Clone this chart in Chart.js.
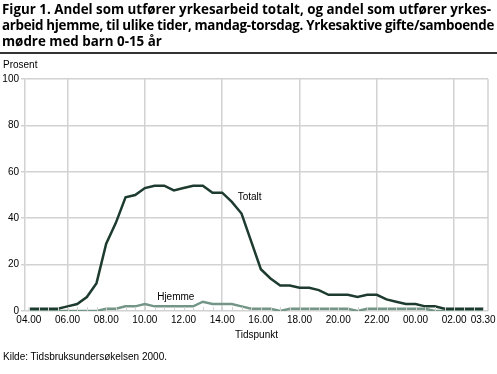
<!DOCTYPE html>
<html><head><meta charset="utf-8">
<script src="https://cdn.jsdelivr.net/npm/chart.js@4/dist/chart.umd.min.js"></script>
<style>
html,body{margin:0;padding:0;background:#fff;width:497px;height:374px;overflow:hidden;position:relative;font-family:"Liberation Sans",Arial,sans-serif;color:#000;}
#wrap{position:absolute;left:0;top:0;width:497px;height:374px;}
#title{position:absolute;left:2px;top:1px;font-family:"Open Sans",sans-serif;font-weight:bold;font-size:12.5px;line-height:16px;white-space:nowrap;}
#title span{display:inline-block;}
#rule{position:absolute;left:0;top:52px;width:497px;height:2px;background:#333;}
#prosent{position:absolute;left:3px;top:59px;font-size:10px;line-height:12px;}
#kilde{position:absolute;left:3px;top:351px;font-size:10px;line-height:12px;}
</style></head><body>
<div id="wrap"><canvas id="c" width="497" height="374"></canvas></div>
<div id="title"><span id="t1">Figur 1. Andel som utfører yrkesarbeid totalt, og andel som utfører yrkes-</span><br><span id="t2">arbeid hjemme, til ulike tider, mandag-torsdag. Yrkesaktive gifte/samboende</span><br><span id="t3">mødre med barn 0-15 år</span></div>
<div id="rule"></div>
<div id="prosent">Prosent</div>
<div id="kilde">Kilde: Tidsbruksundersøkelsen 2000.</div>
<script>
// time points, every half hour from 04.00 to 03.30
const times = ["04.00","04.30","05.00","05.30","06.00","06.30","07.00","07.30","08.00","08.30","09.00","09.30",
  "10.00","10.30","11.00","11.30","12.00","12.30","13.00","13.30","14.00","14.30","15.00","15.30",
  "16.00","16.30","17.00","17.30","18.00","18.30","19.00","19.30","20.00","20.30","21.00","21.30",
  "22.00","22.30","23.00","23.30","00.00","00.30","01.00","01.30","02.00","02.30","03.00","03.30"];
const totalt = [1,1,1,1,2,3,6,12,29,38,49,50,
  53,54,54,52,53,54,54,51,51,47,42,30,
  18,14,11,11,10,10,9,7,7,7,6,7,
  7,5,4,3,3,2,2,1,1,1,1,1];
const hjemme = [0,0,0,0,0,0,0,0,1,1,2,2,
  3,2,2,2,2,2,4,3,3,3,2,1,
  1,1,0,1,1,1,1,1,1,1,0,1,
  1,1,1,1,1,1,0,0,0,0,0,0];
const seriesNames = ["Totalt","Hjemme"];
const yTicks = [0,20,40,60,80,100];
const labeledTimes = ["04.00","06.00","08.00","10.00","12.00","14.00","16.00","18.00","20.00","22.00","00.00","02.00","03.30"];
const gridTimes = ["06.00","10.00","14.00","18.00","22.00","02.00"];

// fit title lines to the reference widths
(function(){const t=document.getElementById('title');
  const s1=document.getElementById('t1'), s2=document.getElementById('t2');
  const w=s1.getBoundingClientRect().width; const fs=12.5*489/w; t.style.fontSize=fs.toFixed(2)+'px';
  const w2=s2.getBoundingClientRect().width; const n=s2.textContent.length;
  s2.style.letterSpacing=((492-w2)/n).toFixed(3)+'px';})();

const GRID='#d2d2d2';
const FONT={family:'"Liberation Sans", Arial, sans-serif',size:10};
const C_TOT='#1d3b2f', C_HJ='#739687';

const decor={id:'decor',
  afterDatasetsDraw(chart){
    const {ctx,chartArea:a,scales:{x,y}}=chart;
    ctx.save();
    ctx.strokeStyle=GRID; ctx.lineWidth=1.5;
    ctx.beginPath(); ctx.moveTo(a.right,a.top); ctx.lineTo(a.right,a.bottom); ctx.stroke();
    ctx.lineWidth=1;
    times.forEach((t,i)=>{const px=Math.round(x.getPixelForValue(i))+0.5;
      ctx.beginPath(); ctx.moveTo(px,a.bottom-4); ctx.lineTo(px,a.bottom); ctx.stroke();});
    ctx.fillStyle='#000'; ctx.font='10px "Liberation Sans", Arial, sans-serif';
    ctx.textBaseline='middle'; ctx.textAlign='left';
    ctx.fillText(seriesNames[0], x.getPixelForValue(21.6), y.getPixelForValue(49));
    ctx.textAlign='center';
    ctx.fillText(seriesNames[1], x.getPixelForValue(15.2), y.getPixelForValue(6));
    ctx.restore();
  }};

new Chart(document.getElementById('c'),{
  type:'line',
  data:{datasets:[
    {label:seriesNames[0],data:totalt.map((v,i)=>({x:i,y:v})),borderColor:C_TOT,borderWidth:2.5,pointRadius:0,tension:0,fill:false},
    {label:seriesNames[1],data:hjemme.map((v,i)=>({x:i,y:v})),borderColor:C_HJ,borderWidth:2.5,pointRadius:0,tension:0,fill:false}
  ]},
  plugins:[decor],
  options:{
    responsive:false,animation:false,devicePixelRatio:1,
    layout:{padding:{top:79,left:0,right:9,bottom:33}},
    plugins:{legend:{display:false},tooltip:{enabled:false},title:{display:false}},
    scales:{
      x:{type:'linear',min:-0.4,max:47.5,
        ticks:{stepSize:1,includeBounds:false,autoSkip:false,maxRotation:0,minRotation:0,padding:3,color:'#000',font:FONT,
          callback:(v)=>{const t=times[v];return (t!==undefined && labeledTimes.includes(t))?t:'';}},
        grid:{drawTicks:false,lineWidth:1.5,color:(c)=>{const t=c.tick?times[c.tick.value]:undefined;return (t && gridTimes.includes(t))?GRID:'rgba(0,0,0,0)';}},
        border:{display:false},
        title:{display:true,text:'Tidspunkt',color:'#000',font:FONT,padding:0},
        afterFit:(s)=>{s.height=30;s.paddingLeft=0;s.paddingRight=0;}
      },
      y:{min:0,max:100,
        afterBuildTicks:(s)=>{s.ticks=yTicks.map(v=>({value:v}));},
        ticks:{padding:2,color:'#000',font:FONT},
        grid:{color:GRID,lineWidth:1.5,tickLength:4,drawTicks:true},
        border:{display:true,color:GRID,width:1.5},
        afterFit:(s)=>{s.width=25;s.paddingTop=0;s.paddingBottom=0;}
      }
    }
  }
});
</script>
</body></html>
